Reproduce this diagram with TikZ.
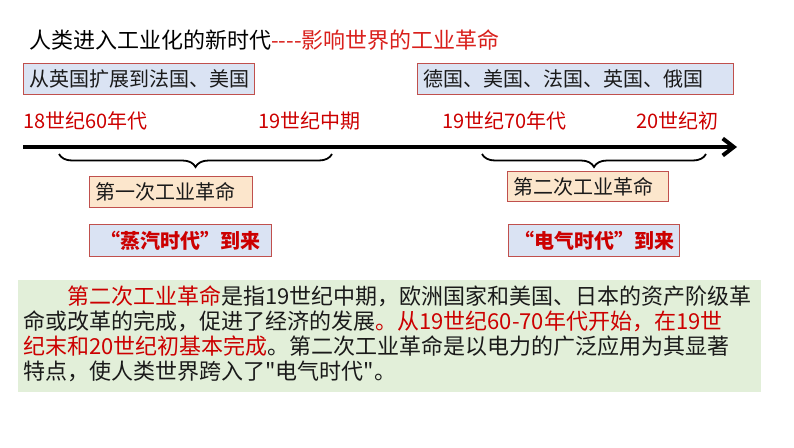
\documentclass[tikz,border=0pt]{standalone}
\usepackage{fontspec}
\setmainfont{Noto Sans CJK SC}[Ligatures=TeXOff]
\usepackage{xcolor}
\usetikzlibrary{positioning,arrows.meta,calc,decorations.pathreplacing}
\definecolor{titleRed}{HTML}{D9201C}
\definecolor{dateRed}{HTML}{CC0000}
\definecolor{boxBlue}{HTML}{DAE3F3}
\definecolor{boxPeach}{HTML}{FCE6CC}
\definecolor{boxEdge}{HTML}{C0504D}
\definecolor{noteGreen}{HTML}{E2EFD9}
\definecolor{inkBlack}{HTML}{1A1A1A}

\begin{document}
\begin{tikzpicture}[
  x=1pt, y=-1pt,
  base/.style={draw=boxEdge, line width=0.8pt, inner sep=6pt, align=left,
               minimum height=30pt, font=\fontsize{20}{22}\selectfont, text=inkBlack},
  landbox/.style={base, fill=boxBlue},
  revbox/.style={base, fill=boxPeach},
  erabox/.style={base, fill=boxBlue, text=dateRed, font=\fontsize{20}{22}\selectfont\bfseries},
  datelbl/.style={anchor=west, inner sep=0pt, text=dateRed, font=\fontsize{20}{22}\selectfont},
  noteline/.style={anchor=base west, inner sep=0pt, text=inkBlack, font=\fontsize{22}{25}\selectfont},
  timeline/.style={-{Straight Barb[length=11pt,width=17pt]}, line width=4pt, draw=black},
  brace/.style={decorate, decoration={brace, mirror, amplitude=13pt}, line width=1.8pt},
]
\useasboundingbox (0,0) rectangle (794,447);

% ---- Titel ----
\node[anchor=west, inner sep=0pt, font=\fontsize{22}{24}\selectfont] (title) at (29,40)
  {人类进入工业化的新时代\textcolor{titleRed}{----影响世界的工业革命}};

% ---- Ausbreitung ----
\node[landbox, text width=219pt] (land1) at (138.5,79) {从英国扩展到法国、美国};
\node[landbox, text width=304pt] (land2) at (575,79) {德国、美国、法国、英国、俄国};

% ---- Zeitangaben ----
\node[datelbl] (d1) at (23,121)  {18世纪60年代};
\node[datelbl] (d2) at (258,121) {19世纪中期};
\node[datelbl] (d3) at (442,121) {19世纪70年代};
\node[datelbl] (d4) at (636,121) {20世纪初};

% ---- Zeitachse ----
\coordinate (tstart) at (23,147);
\coordinate (tend)   at (737,147);
\draw[timeline] (tstart) -- (tend);

% ---- Klammern ----
\coordinate (b1l) at (59,154);
\coordinate (b1r) at (332,154);
\coordinate (b2l) at (482,154);
\coordinate (b2r) at (706,154);
\draw[brace] (b1l) -- (b1r);
\draw[brace] (b2l) -- (b2r);

% ---- Revolutionen ----
\node[revbox, text width=151pt] (rev1) at (170.5,192) {第一次工业革命};
\node[revbox, text width=149pt] (rev2) at (587.5,186.5) {第二次工业革命};

\node[erabox, text width=170pt, align=center] (era1) at (180,240.5) {“蒸汽时代”到来};
\node[erabox, text width=159pt, align=center] (era2) at (593.5,240.5) {“电气时代”到来};

% ---- Erläuterung ----
\node[fill=noteGreen, minimum width=743pt, minimum height=112pt, inner sep=0pt] (note) at (389.5,336) {};
\node[noteline] (n1) at (23,304) {\hspace*{2em}\textcolor{dateRed}{第二次工业革命}是指19世纪中期，欧洲国家和美国、日本的资产阶级革};
\node[noteline] (n2) at (23,329) {命或改革的完成，促进了经济的发展\textcolor{dateRed}{。从19世纪60-70年代开始，在19世}};
\node[noteline] (n3) at (23,354) {\textcolor{dateRed}{纪末和20世纪初基本完成}。第二次工业革命是以电力的广泛应用为其显著};
\node[noteline] (n4) at (23,379) {特点，使人类世界跨入了"电气时代"。};

\end{tikzpicture}
\end{document}
